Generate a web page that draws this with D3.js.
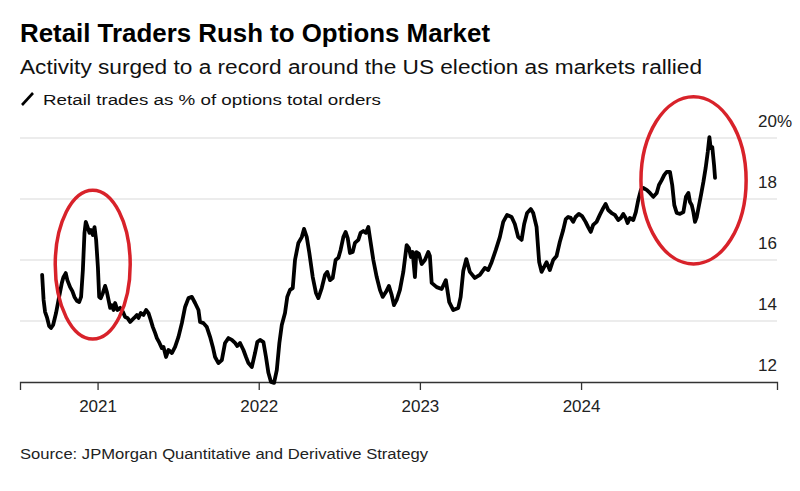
<!DOCTYPE html>
<html>
<head>
<meta charset="utf-8">
<script src="https://cdn.jsdelivr.net/npm/d3@7"></script>
<style>
  html, body { margin: 0; padding: 0; background: #fff; }
  svg { display: block; font-family: "Liberation Sans", Arial, Helvetica, sans-serif; }
</style>
</head>
<body>
<svg id="chart" width="800" height="491"></svg>
<script>
// ---- Data (dates as decimal years, values in %) ----
const dates = [
2020.657,2020.666,2020.675,2020.688,2020.700,2020.712,2020.725,2020.743,2020.762,2020.779,
2020.789,2020.803,2020.813,2020.830,2020.844,2020.857,2020.872,2020.886,2020.898,2020.909,
2020.919,2020.927,2020.940,2020.950,2020.960,2020.971,2020.981,2020.991,2021.002,2021.010,
2021.020,2021.033,2021.047,2021.058,2021.068,2021.078,2021.089,2021.099,2021.109,2021.123,
2021.140,2021.157,2021.171,2021.185,2021.202,2021.213,2021.227,2021.244,2021.254,2021.268,
2021.285,2021.301,2021.316,2021.330,2021.343,2021.357,2021.368,2021.384,2021.399,2021.409,
2021.425,2021.440,2021.461,2021.481,2021.502,2021.523,2021.543,2021.564,2021.585,2021.605,
2021.626,2021.636,2021.657,2021.678,2021.698,2021.715,2021.729,2021.750,2021.771,2021.791,
2021.812,2021.833,2021.853,2021.867,2021.884,2021.905,2021.921,2021.936,2021.957,2021.977,
2021.991,2022.008,2022.029,2022.045,2022.060,2022.076,2022.095,2022.112,2022.128,2022.143,
2022.163,2022.177,2022.194,2022.211,2022.225,2022.246,2022.267,2022.281,2022.298,2022.314,
2022.335,2022.355,2022.370,2022.391,2022.411,2022.425,2022.442,2022.459,2022.477,2022.494,
2022.508,2022.525,2022.539,2022.552,2022.566,2022.583,2022.597,2022.618,2022.632,2022.649,
2022.665,2022.680,2022.694,2022.711,2022.732,2022.752,2022.769,2022.789,2022.808,2022.825,
2022.839,2022.856,2022.876,2022.897,2022.918,2022.932,2022.944,2022.955,2022.969,2022.978,
2022.994,2023.011,2023.031,2023.052,2023.062,2023.073,2023.104,2023.135,2023.161,2023.182,
2023.207,2023.238,2023.253,2023.269,2023.288,2023.310,2023.341,2023.372,2023.403,2023.424,
2023.445,2023.471,2023.496,2023.517,2023.541,2023.569,2023.589,2023.610,2023.631,2023.647,
2023.665,2023.688,2023.703,2023.724,2023.740,2023.755,2023.786,2023.806,2023.827,2023.848,
2023.868,2023.889,2023.905,2023.920,2023.936,2023.951,2023.966,2023.986,2024.006,2024.028,
2024.044,2024.060,2024.075,2024.096,2024.116,2024.137,2024.152,2024.168,2024.189,2024.209,
2024.230,2024.246,2024.261,2024.276,2024.288,2024.302,2024.323,2024.339,2024.354,2024.370,
2024.385,2024.406,2024.426,2024.447,2024.468,2024.482,2024.499,2024.515,2024.530,2024.550,
2024.564,2024.577,2024.592,2024.612,2024.633,2024.649,2024.664,2024.674,2024.685,2024.695,
2024.705,2024.716,2024.730,2024.742,2024.757,2024.771,2024.784,2024.794,2024.802,2024.812,
2024.823,2024.829];

const values = [
15.51,14.69,14.30,14.10,13.84,13.77,13.87,14.26,14.79,15.25,
15.44,15.57,15.34,15.11,14.98,14.79,14.66,14.62,14.79,15.67,
16.89,17.25,17.05,16.89,16.98,16.82,17.08,16.66,15.77,14.79,
14.75,14.92,15.15,14.95,14.69,14.43,14.52,14.36,14.59,14.36,
14.43,14.30,14.13,14.10,13.97,14.03,14.10,14.20,14.10,14.26,
14.20,14.36,14.26,14.03,13.80,13.61,13.44,13.28,13.11,13.15,
12.82,13.05,12.95,13.15,13.48,13.93,14.46,14.75,14.79,14.59,
14.36,13.97,13.93,13.80,13.48,13.15,12.82,12.62,12.72,13.28,
13.44,13.38,13.28,13.18,13.28,13.05,12.82,12.62,12.49,12.95,
13.31,13.38,13.31,12.82,12.30,12.00,11.97,12.39,13.28,13.87,
14.26,14.79,15.02,15.08,16.00,16.56,16.75,17.02,16.75,16.23,
15.44,14.92,14.75,15.08,15.51,15.61,15.34,15.41,16.00,16.07,
16.33,16.75,16.92,16.72,16.23,16.26,16.56,16.66,16.89,16.95,
16.89,17.08,16.59,16.00,15.44,15.02,14.79,14.95,15.15,14.85,
14.52,14.69,15.02,15.61,16.49,16.39,16.10,16.26,15.44,16.26,
16.20,15.87,16.00,16.26,16.13,15.25,15.11,15.05,15.34,14.62,
14.36,14.43,14.79,15.64,16.03,15.61,15.41,15.51,15.74,15.67,
15.93,16.33,16.75,17.25,17.48,17.41,17.18,16.75,16.66,17.18,
17.54,17.67,17.54,17.08,15.93,15.61,15.93,15.67,16.00,16.13,
16.59,16.98,17.34,17.41,17.38,17.25,17.41,17.51,17.44,17.25,
17.08,16.92,17.15,17.25,17.48,17.70,17.84,17.64,17.54,17.48,
17.31,17.38,17.51,17.38,17.21,17.38,17.31,17.57,17.97,18.30,
18.36,18.30,18.20,18.07,18.20,18.46,18.62,18.79,18.89,18.89,
18.46,17.80,17.54,17.51,17.57,18.07,18.20,17.90,17.80,17.57,
17.25,17.41,17.80,18.13,18.56,19.02,19.54,20.03,19.67,19.70,
19.11,18.69];

const xTickYears = [2021, 2022, 2023, 2024];
const yTicks = [12, 14, 16, 18, 20];
const xDomainYears = [2020.52, 2025.213];
const yDomain = [12, 20];

// highlighted regions: centre (decimal year, value) and radii (years, value units)
const highlightCenters = [[2020.970, 15.85], [2024.696, 18.61]];
const highlightRadii = [[0.2325, 2.44], [0.3255, 2.74]];

const title = "Retail Traders Rush to Options Market";
const subtitle = "Activity surged to a record around the US election as markets rallied";
const legendLabel = "Retail trades as % of options total orders";
const source = "Source: JPMorgan Quantitative and Derivative Strategy";

// ---- Helpers ----
function fromDecimal(d) {
  const y = Math.floor(d);
  const s = Date.UTC(y, 0, 1), e = Date.UTC(y + 1, 0, 1);
  return new Date(s + (d - y) * (e - s));
}

const svg = d3.select("#chart");
const W = 800, H = 491;
svg.append("rect").attr("width", W).attr("height", H).attr("fill", "#fff");

const x = d3.scaleUtc()
  .domain(xDomainYears.map(fromDecimal))
  .range([20, 777]);
const y = d3.scaleLinear().domain(yDomain).range([382, 138]);

// ---- Titles ----
svg.append("text").attr("x", 20).attr("y", 42)
  .attr("font-size", 26).attr("font-weight", "bold").attr("fill", "#000")
  .attr("textLength", 470).attr("lengthAdjust", "spacingAndGlyphs")
  .text(title);
svg.append("text").attr("x", 20).attr("y", 74)
  .attr("font-size", 19.5).attr("fill", "#111")
  .attr("textLength", 682).attr("lengthAdjust", "spacingAndGlyphs")
  .text(subtitle);

// legend
svg.append("line").attr("x1", 22).attr("y1", 105).attr("x2", 33).attr("y2", 93)
  .attr("stroke", "#000").attr("stroke-width", 2.6).attr("stroke-linecap", "butt");
svg.append("text").attr("x", 43).attr("y", 105)
  .attr("font-size", 15.5).attr("fill", "#111")
  .attr("textLength", 338).attr("lengthAdjust", "spacingAndGlyphs")
  .text(legendLabel);

// ---- Gridlines ----
svg.append("g").selectAll("line")
  .data(yTicks.filter(v => v !== yDomain[0]))
  .join("line")
  .attr("x1", 20).attr("x2", 777)
  .attr("y1", d => y(d)).attr("y2", d => y(d))
  .attr("stroke", "#d9d9d9").attr("stroke-width", 1);

// ---- Y labels (right) ----
const yl = svg.append("g").attr("font-size", 17).attr("fill", "#222");
yl.selectAll("text.num").data(yTicks).join("text")
  .attr("class", "num")
  .attr("x", 777).attr("y", d => y(d) - 11)
  .attr("text-anchor", "end")
  .text(d => d);
yl.append("text").attr("x", 777).attr("y", y(yTicks[yTicks.length - 1]) - 11)
  .text("%");

// ---- X axis ----
const xAxis = d3.axisBottom(x)
  .tickValues(xTickYears.map(v => fromDecimal(v)))
  .tickFormat(d3.utcFormat("%Y"))
  .tickSize(8).tickPadding(10);
const gx = svg.append("g").attr("transform", `translate(0,${y(yDomain[0])})`).call(xAxis);
gx.select(".domain").attr("stroke", "#333").attr("stroke-width", 1.3);
gx.selectAll(".tick line").attr("stroke", "#333").attr("stroke-width", 1.3);
gx.selectAll(".tick text").attr("font-size", 17).attr("fill", "#222")
  .attr("font-family", '"Liberation Sans", Arial, sans-serif');

// ---- Line ----
const data = dates.map((d, i) => ({ date: fromDecimal(d), value: values[i] }));
const line = d3.line().x(d => x(d.date)).y(d => y(d.value));
svg.append("path").datum(data)
  .attr("d", line)
  .attr("fill", "none").attr("stroke", "#000")
  .attr("stroke-width", 3.8)
  .attr("stroke-linejoin", "round").attr("stroke-linecap", "round");

// ---- Highlight ellipses ----
svg.append("g").selectAll("ellipse")
  .data(highlightCenters.map((c, i) => ({ c, r: highlightRadii[i] })))
  .join("ellipse")
  .attr("cx", d => x(fromDecimal(d.c[0])))
  .attr("cy", d => y(d.c[1]))
  .attr("rx", d => x(fromDecimal(d.c[0] + d.r[0])) - x(fromDecimal(d.c[0])))
  .attr("ry", d => y(d.c[1] - d.r[1]) - y(d.c[1]))
  .attr("fill", "none").attr("stroke", "#d8222a").attr("stroke-width", 3.5);

// ---- Source ----
svg.append("text").attr("x", 20).attr("y", 459)
  .attr("font-size", 15.5).attr("fill", "#222")
  .attr("textLength", 408).attr("lengthAdjust", "spacingAndGlyphs")
  .text(source);
</script>
</body>
</html>
